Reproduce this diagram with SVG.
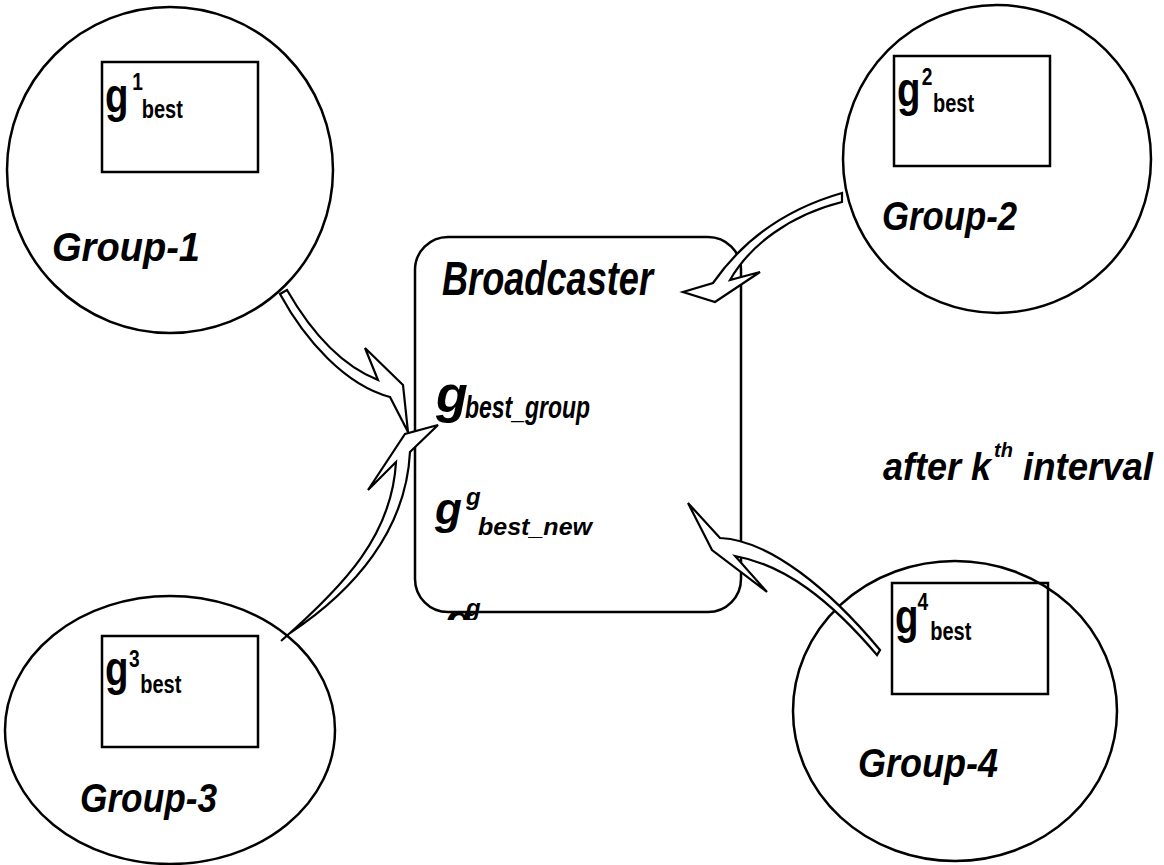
<svg xmlns="http://www.w3.org/2000/svg" width="1164" height="865" viewBox="0 0 1164 865">
<style>
.shape{fill:none;stroke:#000;stroke-width:2.5}
.box{fill:none;stroke:#000;stroke-width:2.5}
.arrow{fill:#fff;stroke:#000;stroke-width:2.2;stroke-linejoin:miter}
.t{font-family:"Liberation Sans",Arial,sans-serif;font-weight:bold;fill:#000}
.ti{font-family:"Liberation Sans",Arial,sans-serif;font-weight:bold;font-style:italic;fill:#000}
</style>
<defs>
<clipPath id="clip3"><rect x="400" y="560" width="200" height="60"/></clipPath>
</defs>
<rect width="1164" height="865" fill="#fff"/>

<g id="group1">
<circle class="shape" cx="170" cy="170" r="163"/>
<rect class="box" x="102" y="62" width="156" height="110"/>
<text class="t" transform="translate(105,112) scale(0.8,1)"><tspan x="0" y="0" font-size="48">g</tspan><tspan x="34" y="-22" font-size="24">1</tspan><tspan x="46" y="6" font-size="25">best</tspan></text>
<text class="ti" x="52" y="261" font-size="40" textLength="148" lengthAdjust="spacingAndGlyphs">Group-1</text>
</g>

<g id="group2">
<circle class="shape" cx="997" cy="159" r="154"/>
<rect class="box" x="894" y="56" width="156" height="110"/>
<text class="t" transform="translate(897,106) scale(0.8,1)"><tspan x="0" y="0" font-size="48">g</tspan><tspan x="31" y="-21" font-size="24">2</tspan><tspan x="45" y="6" font-size="25">best</tspan></text>
<text class="ti" x="882" y="230" font-size="40" textLength="135" lengthAdjust="spacingAndGlyphs">Group-2</text>
</g>

<g id="group3">
<ellipse class="shape" cx="170" cy="730" rx="165" ry="134"/>
<rect class="box" x="102" y="636" width="156" height="111"/>
<text class="t" transform="translate(105,685) scale(0.8,1)"><tspan x="0" y="0" font-size="48">g</tspan><tspan x="30" y="-18" font-size="24">3</tspan><tspan x="44" y="8" font-size="25">best</tspan></text>
<text class="ti" x="80" y="812" font-size="40" textLength="137" lengthAdjust="spacingAndGlyphs">Group-3</text>
</g>

<g id="group4">
<ellipse class="shape" cx="955" cy="711" rx="162" ry="150"/>
<rect class="box" x="892" y="583" width="156" height="111"/>
<text class="t" transform="translate(895,633) scale(0.8,1)"><tspan x="0" y="0" font-size="48">g</tspan><tspan x="28" y="-23" font-size="24">4</tspan><tspan x="44" y="7" font-size="25">best</tspan></text>
<text class="ti" x="858" y="777" font-size="40" textLength="140" lengthAdjust="spacingAndGlyphs">Group-4</text>
</g>

<g id="broadcaster">
<rect class="box" x="415" y="237" width="326" height="375" rx="33" ry="33"/>
<text class="ti" x="442" y="295" font-size="48" textLength="211" lengthAdjust="spacingAndGlyphs">Broadcaster</text>
<text class="ti" x="436" y="412" font-size="52">g</text>
<text class="ti" x="465" y="418" font-size="32" textLength="125" lengthAdjust="spacingAndGlyphs">best_group</text>
<text class="ti" x="435" y="524" font-size="44">g</text>
<text class="ti" x="466" y="505" font-size="24">g</text>
<text class="ti" x="478" y="535" font-size="24" textLength="114" lengthAdjust="spacingAndGlyphs">best_new</text>
<g clip-path="url(#clip3)">
<text class="ti" x="445" y="635" font-size="44">g</text>
<text class="ti" x="466" y="616" font-size="24">g</text>
</g>
</g>

<g id="label-interval">
<text class="ti" x="883" y="480" font-size="39" textLength="108" lengthAdjust="spacingAndGlyphs">after k</text>
<text class="ti" x="994" y="457" font-size="20">th</text>
<text class="ti" x="1023" y="480" font-size="39" textLength="130" lengthAdjust="spacingAndGlyphs">interval</text>
</g>

<g id="connectors">
<path id="arrow1" class="arrow" d="M287,290 C310,330 340,365 378,380 L365,348 L403,385 L408,432 L390,397 C345,385 305,340 280,294 Z"/>
<path id="arrow2" class="arrow" d="M842,193 C800,205 750,230 713,283 L683,292 L715,302 L760,272 L730,280 C750,245 790,215 842,202 Z"/>
<path id="arrow3" class="arrow" d="M281,641 C345,585 392,535 396,462 L368,490 L405,434 L438,425 L410,452 C406,530 355,590 290,633 Z"/>
<path id="arrow4" class="arrow" d="M688,503 L720,538 C770,540 830,590 880,650 L877,655 C830,600 785,565 735,556 L767,592 L712,550 Z"/>
</g>
</svg>
